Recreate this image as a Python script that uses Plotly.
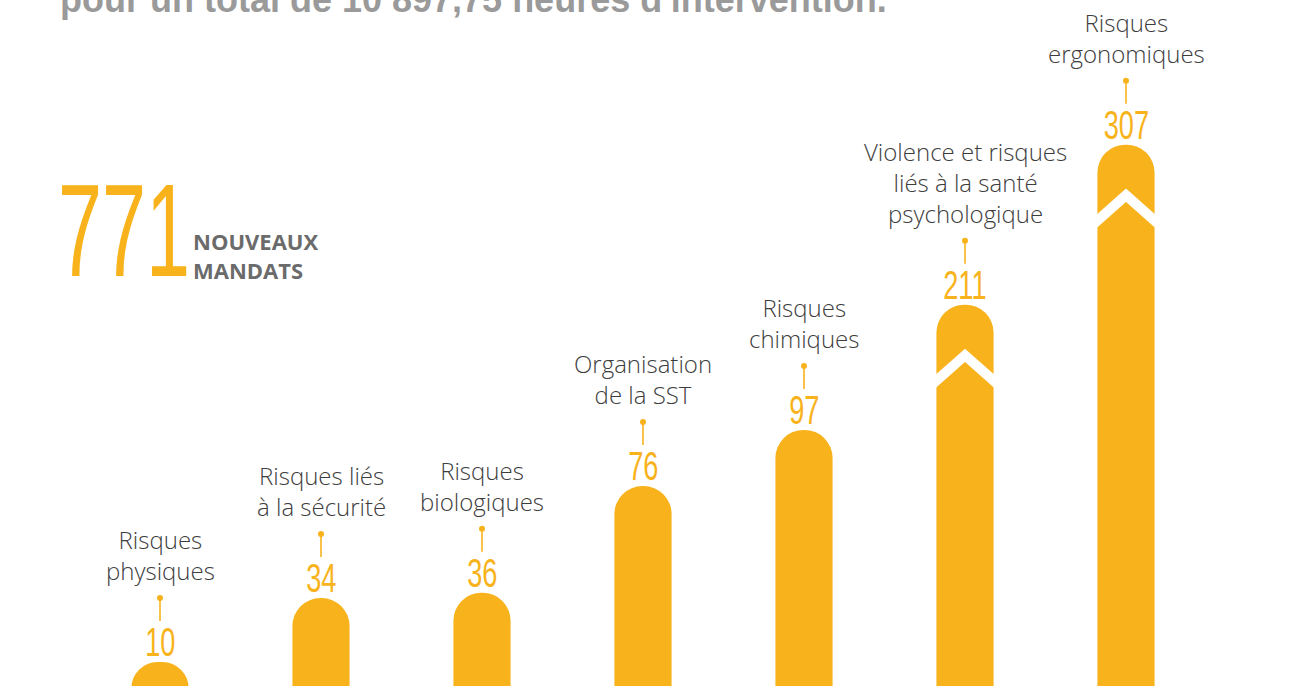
import plotly.graph_objects as go

# ---- data ----
categories = [
    "Risques<br>physiques",
    "Risques liés<br>à la sécurité",
    "Risques<br>biologiques",
    "Organisation<br>de la SST",
    "Risques<br>chimiques",
    "Violence et risques<br>liés à la santé<br>psychologique",
    "Risques<br>ergonomiques",
]
values = [10, 34, 36, 76, 97, 211, 307]
# drawn bar lengths (the two largest bars are shown with a broken, compressed axis)
bar_lengths = [10, 34, 36, 76, 97, 144, 204]
broken = [False, False, False, False, False, True, True]
total_label = "771"
total_caption = "NOUVEAUX<br>MANDATS"
title_text = "pour un total de 10 897,75 heures d'intervention."

YELLOW = "#F8B31C"
TEXT = "#3d3d3d"
GREY = "#6b6b6b"
TITLE_GREY = "#9a9a9a"

positions = list(range(len(values)))
BAR_W = 0.355

fig = go.Figure()
fig.add_trace(go.Bar(
    x=positions, y=bar_lengths, width=BAR_W,
    marker=dict(color=YELLOW, line=dict(width=0), cornerradius="50%"),
    hoverinfo="skip",
))

# white chevron "break" marks on the compressed bars
for i, (L, b) in enumerate(zip(bar_lengths, broken)):
    if not b:
        continue
    half = 0.21
    slope = (28.5 - 19.0) / (BAR_W / 2)
    fig.add_trace(go.Scatter(
        x=[i - half, i, i + half],
        y=[L - 19.0 - slope * half, L - 19.0, L - 19.0 - slope * half],
        mode="lines", line=dict(color="white", width=10),
        hoverinfo="skip",
    ))

num_font = dict(family="Liberation Sans Narrow, sans-serif", size=40, color=YELLOW)
cat_font = dict(family="Open Sans, sans-serif", size=24, color=TEXT, weight=300)

annotations = []
shapes = []
for i, (L, v, c) in enumerate(zip(bar_lengths, values, categories)):
    annotations.append(dict(
        x=i, y=L, xref="x", yref="y", text=str(v), showarrow=False,
        xanchor="center", yanchor="bottom", yshift=-4, font=num_font,
    ))
    annotations.append(dict(
        x=i, y=L, xref="x", yref="y", text=c, showarrow=False,
        xanchor="center", yanchor="bottom", align="center",
        yshift=73, font=cat_font,
    ))
    shapes.append(dict(
        type="line", xref="x", yref="y", x0=i, x1=i,
        ysizemode="pixel", yanchor=L, y0=41, y1=63,
        line=dict(color=YELLOW, width=1.6),
    ))
    shapes.append(dict(
        type="circle", xref="x", yref="y",
        xsizemode="pixel", xanchor=i, x0=-3, x1=3,
        ysizemode="pixel", yanchor=L, y0=61, y1=67,
        fillcolor=YELLOW, line=dict(width=0),
    ))

# big total number + caption
annotations.append(dict(
    x=56 / 1310, y=1 - 155 / 686, xref="paper", yref="paper", text=total_label,
    showarrow=False, xanchor="left", yanchor="top",
    font=dict(family="Liberation Sans Narrow, sans-serif", size=132, color=YELLOW),
))
annotations.append(dict(
    x=191 / 1310, y=1 - 224 / 686, xref="paper", yref="paper", text=total_caption,
    showarrow=False, xanchor="left", yanchor="top", align="left",
    font=dict(family="Open Sans, sans-serif", size=22, color=GREY, weight=700),
))
# title (cut off at the top of the frame)
annotations.append(dict(
    x=58 / 1310, y=1 - 22 / 686, xref="paper", yref="paper", text=title_text,
    showarrow=False, xanchor="left", yanchor="bottom",
    font=dict(family="Liberation Sans Narrow, sans-serif", size=36,
              color=TITLE_GREY, weight=700),
))

x0 = -160 / 161
fig.update_layout(
    width=1310, height=686,
    margin=dict(l=0, r=0, t=0, b=0),
    paper_bgcolor="white", plot_bgcolor="white",
    showlegend=False,
    xaxis=dict(range=[x0, x0 + 1310 / 161], visible=False, fixedrange=True),
    yaxis=dict(range=[1.01, 1.01 + 686 / 2.667], visible=False, fixedrange=True),
    annotations=annotations, shapes=shapes,
    hovermode=False,
)

# remove the page margin and give the numerals their condensed look
post_script = """
document.body.style.margin = '0';
var gd = document.getElementById('{plot_id}');
gd.querySelectorAll('text.annotation-text').forEach(function (t) {
  var s = t.textContent;
  if (/^\\d+$/.test(s)) {
    t.style.transformBox = 'fill-box';
    if (s === '771') {
      t.style.transformOrigin = 'left center';
      t.style.transform = 'scaleX(0.6)';
    } else {
      t.style.transformOrigin = 'center center';
      t.style.transform = 'scaleX(0.68)';
    }
  }
});
"""

fig.write_html("out.html", config={"displayModeBar": False}, post_script=post_script)
